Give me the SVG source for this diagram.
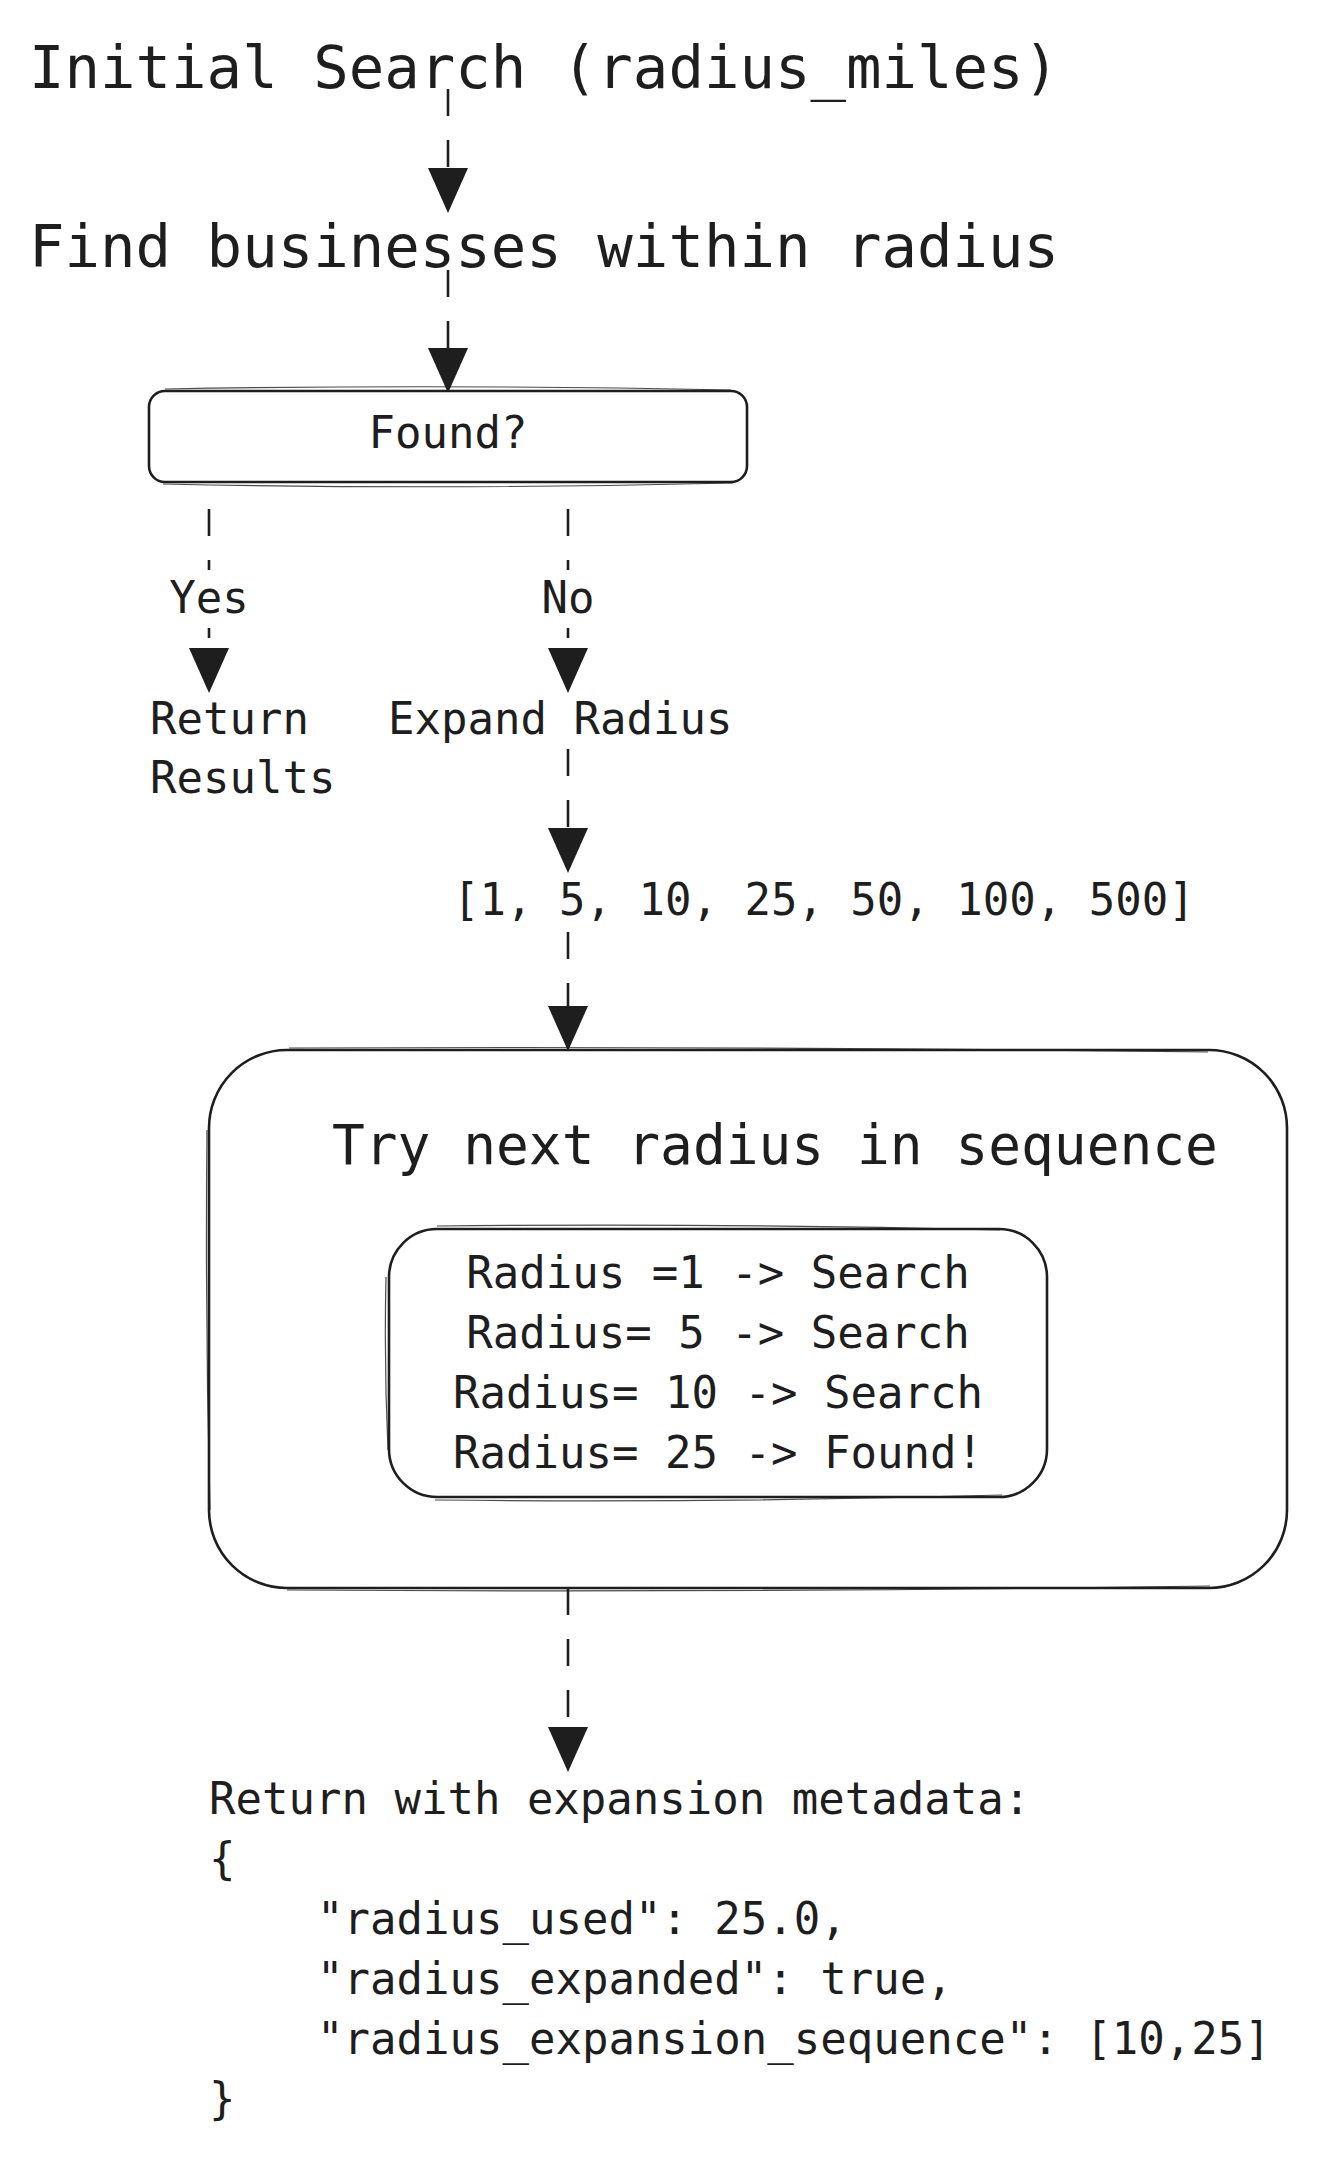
<svg xmlns="http://www.w3.org/2000/svg" width="1320" height="2160" viewBox="0 0 1320 2160">
<style>
  .t { font-family: "DejaVu Sans Mono", "Liberation Mono", monospace; fill: #1e1e1e; }
  .big { font-size: 59px; }
  .mid { font-size: 54.5px; }
  .sm { font-size: 44px; }
  .box { fill: #ffffff; stroke: #1e1e1e; stroke-width: 2.6; }
  .box2 { fill: none; stroke: #1e1e1e; stroke-width: 1.2; opacity: 0.8; }
  .edge { fill: none; stroke: #1e1e1e; stroke-width: 2.6; stroke-dasharray: 27 24; marker-end: url(#ah); }
  .lblbg { fill: #ffffff; }
</style>
<defs>
  <marker id="ah" viewBox="0 0 45 40" markerWidth="45" markerHeight="40" refX="0" refY="20" orient="auto" markerUnits="userSpaceOnUse">
    <path d="M0,0 L45,20 L0,40 Z" fill="#1e1e1e"/>
  </marker>
</defs>
<rect width="1320" height="2160" fill="#ffffff"/>

<g id="connectors">
  <line class="edge" x1="448" y1="89" x2="448" y2="168"/>
  <line class="edge" x1="448" y1="270" x2="448" y2="348"/>
  <line class="edge" x1="209" y1="509" x2="209" y2="648"/>
  <line class="edge" x1="568" y1="509" x2="568" y2="648"/>
  <line class="edge" x1="568" y1="749" x2="568" y2="828"/>
  <line class="edge" x1="568" y1="932" x2="568" y2="1006"/>
  <line class="edge" x1="568" y1="1588" x2="568" y2="1727"/>
  <g id="label-yes">
    <rect class="lblbg" x="182" y="570" width="54" height="58"/>
    <text class="t sm" x="209" y="613" text-anchor="middle">Yes</text>
  </g>
  <g id="label-no">
    <rect class="lblbg" x="544" y="570" width="48" height="58"/>
    <text class="t sm" x="568" y="613" text-anchor="middle">No</text>
  </g>
</g>

<g id="initial-search">
  <text class="t big" x="29" y="88">Initial Search (radius_miles)</text>
</g>

<g id="find-businesses">
  <text class="t big" x="29" y="267">Find businesses within radius</text>
</g>

<g id="found">
  <rect class="box" x="149" y="391" width="598" height="91" rx="16" ry="16"/>
  <path class="box2" d="M165,389 Q448,384 731,390 M163,484 Q448,490 733,483"/>
  <text class="t sm" x="448" y="448" text-anchor="middle">Found?</text>
</g>

<g id="return-results">
  <text class="t sm" x="150" y="734">Return</text>
  <text class="t sm" x="150" y="793">Results</text>
</g>

<g id="expand-radius">
  <text class="t sm" x="388" y="734">Expand Radius</text>
</g>

<g id="sequence">
  <text class="t sm" x="453" y="915">[1, 5, 10, 25, 50, 100, 500]</text>
</g>

<g id="try-next">
  <rect class="box" x="209" y="1050" width="1078" height="538" rx="78" ry="78"/>
  <path class="box2" d="M289,1048 Q750,1046 1208,1052 M287,1590 Q750,1593 1210,1586 M207,1130 Q205,1320 210,1510"/>
  <text class="t mid" x="332" y="1164">Try next radius in sequence</text>
  <g id="radius-steps">
    <rect class="box" x="389" y="1229" width="658" height="268" rx="48" ry="48"/>
    <path class="box2" d="M437,1226 Q718,1223 1000,1230 M435,1500 Q718,1503 1002,1495 M386,1277 Q384,1365 388,1450"/>
    <text class="t sm" x="718" y="1288" text-anchor="middle">Radius =1 -&gt; Search</text>
    <text class="t sm" x="718" y="1348" text-anchor="middle">Radius= 5 -&gt; Search</text>
    <text class="t sm" x="718" y="1408" text-anchor="middle">Radius= 10 -&gt; Search</text>
    <text class="t sm" x="718" y="1468" text-anchor="middle">Radius= 25 -&gt; Found!</text>
  </g>
</g>

<g id="return-metadata">
  <text class="t sm" x="209" y="1814">Return with expansion metadata:</text>
  <text class="t sm" x="209" y="1874">{</text>
  <text class="t sm" x="317" y="1934">"radius_used": 25.0,</text>
  <text class="t sm" x="317" y="1994">"radius_expanded": true,</text>
  <text class="t sm" x="317" y="2054">"radius_expansion_sequence": [10,25]</text>
  <text class="t sm" x="209" y="2114">}</text>
</g>
</svg>
